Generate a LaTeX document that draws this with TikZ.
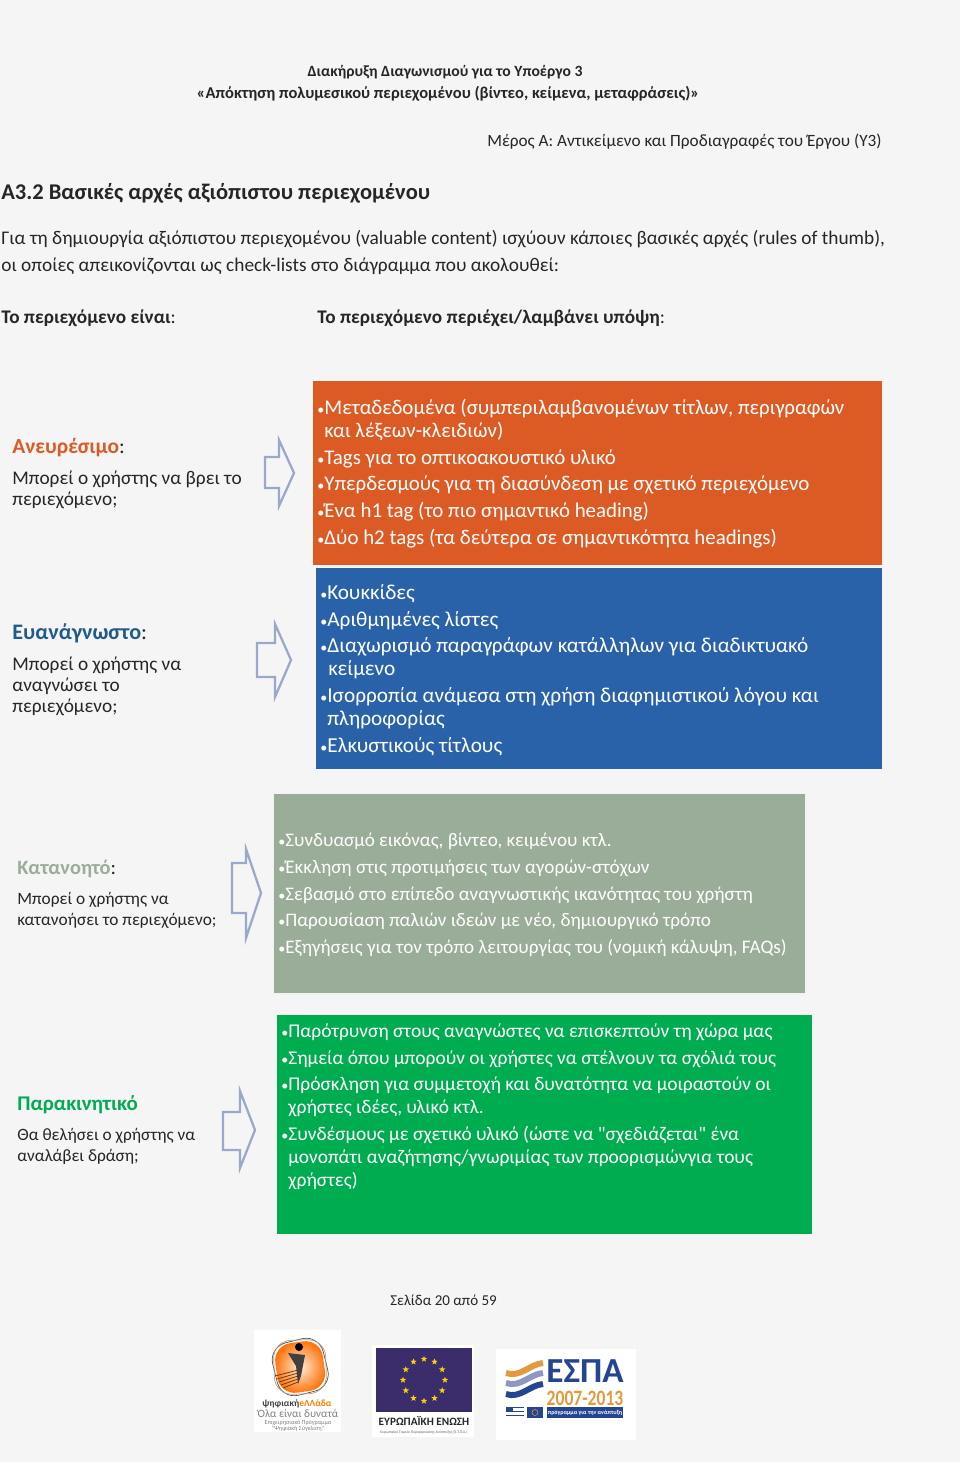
\documentclass[tikz,border=0pt]{standalone}
\usepackage{fontspec}
\setmainfont{Carlito}[Ligatures=TeXOff]
\usetikzlibrary{shapes.geometric}
\definecolor{pagebg}{HTML}{F5F5F5}
\definecolor{boxorange}{HTML}{DC5A24}
\definecolor{boxblue}{HTML}{2A62A9}
\definecolor{boxsage}{HTML}{9AAD98}
\definecolor{boxgreen}{HTML}{00AC50}
\definecolor{headblue}{HTML}{1F5C8B}
\definecolor{arrowblue}{HTML}{9AA9C9}
\definecolor{eublue}{HTML}{3B2C6B}
\definecolor{espanavy}{HTML}{24458F}
\definecolor{espalight}{HTML}{8E97C4}
\definecolor{espaorange}{HTML}{E39A3C}
\newcommand{\fs}[1]{\fontsize{#1}{#1}\selectfont}
\newcommand{\bul}{\makebox[4pt][l]{\fs{8}•}}
\tikzset{
  pagetext/.style={font=\fs{11},text=black!85,anchor=base west,inner sep=0pt},
  pagebold/.style={pagetext,font=\fs{10.95}\bfseries},
  sidehead/.style={font=\fs{12.2}\bfseries,anchor=base west,inner sep=0pt},
  sidetext/.style={font=\fs{11},text=black!85,anchor=base west,inner sep=0pt},
  smalltext/.style={sidetext,font=\fs{9.85}},
  boxline/.style={font=\fs{11.9},text=white,anchor=base west,inner sep=0pt},
  blueline/.style={boxline,font=\fs{12.1}},
  sageline/.style={boxline,font=\fs{10.9}},
  greenline/.style={boxline,font=\fs{11.05}},
  blockarrow/.style={draw=arrowblue,line width=1.3pt,fill=pagebg},
}
\begin{document}
\begin{tikzpicture}[x=0.02cm,y=-0.02cm]
\useasboundingbox (0,0) rectangle (960,1462);
\fill[pagebg] (0,0) rectangle (960,1462);
% page text
\node[pagebold,font=\fs{8.9}\bfseries,anchor=base] (title1) at (445,77) {Διακήρυξη Διαγωνισμού για το Υποέργο 3};
\node[pagebold,font=\fs{9.4}\bfseries,anchor=base] (title2) at (448,98.5) {«Απόκτηση πολυμεσικού περιεχομένου (βίντεο, κείμενα, μεταφράσεις)»};
\node[pagetext,font=\fs{9.8},anchor=base east] (part) at (882,147) {Μέρος Α: Αντικείμενο και Προδιαγραφές του Έργου (Υ3)};
\node[pagebold,font=\fs{12.8}\bfseries] (section) at (1,200) {Α3.2 Βασικές αρχές αξιόπιστου περιεχομένου};
\node[pagetext] (intro1) at (1,245) {Για τη δημιουργία αξιόπιστου περιεχομένου (valuable content) ισχύουν κάποιες βασικές αρχές (rules of thumb),};
\node[pagetext] (intro2) at (1,272) {οι οποίες απεικονίζονται ως check-lists στο διάγραμμα που ακολουθεί:};
\node[pagebold] (left) at (1,323.5) {Το περιεχόμενο είναι\mdseries:};
\node[pagebold] (right) at (317,323.5) {Το περιεχόμενο περιέχει/λαμβάνει υπόψη\mdseries:};
% orange row
\fill[boxorange] (313,381) rectangle (882,565);
\node[sidehead,text=boxorange] (find) at (12,453.5) {Ανευρέσιμο\textcolor{black!85}{\mdseries:}};
\node[sidetext] (find1) at (12,484) {Μπορεί ο χρήστης να βρει το};
\node[sidetext] (find2) at (12,505) {περιεχόμενο;};
\draw[blockarrow] (265,457) -- (279,457) -- (279,440) -- (294,473) -- (279,506) -- (279,488) -- (265,488) -- cycle;
\node[boxline] (ora1) at (317,414.5) {\bul Μεταδεδομένα (συμπεριλαμβανομένων τίτλων, περιγραφών};
\node[boxline] (ora2) at (324,437.5) {και λέξεων-κλειδιών)};
\node[boxline] (ora3) at (317,464) {\bul Tags για το οπτικοακουστικό υλικό};
\node[boxline] (ora4) at (317,490) {\bul Υπερδεσμούς για τη διασύνδεση με σχετικό περιεχόμενο};
\node[boxline] (ora5) at (317,517) {\bul Ένα h1 tag (το πιο σημαντικό heading)};
\node[boxline] (ora6) at (317,544) {\bul Δύο h2 tags (τα δεύτερα σε σημαντικότητα headings)};
% blue row
\fill[boxblue] (316,568) rectangle (882,769);
\node[sidehead,font=\fs{12.6}\bfseries,text=headblue] (read) at (12,639.5) {Ευανάγνωστο\textcolor{black!85}{\mdseries:}};
\node[sidetext] (read1) at (12,670) {Μπορεί ο χρήστης να};
\node[sidetext] (read2) at (12,691) {αναγνώσει το};
\node[sidetext] (read3) at (12,712) {περιεχόμενο;};
\draw[blockarrow] (257,643) -- (275,643) -- (275,624) -- (291,660) -- (275,697) -- (275,677) -- (257,677) -- cycle;
\node[blueline] (blu1) at (320,599) {\bul Κουκκίδες};
\node[blueline] (blu2) at (320,626) {\bul Αριθμημένες λίστες};
\node[blueline] (blu3) at (320,652) {\bul Διαχωρισμό παραγράφων κατάλληλων για διαδικτυακό};
\node[blueline] (blu4) at (328,675) {κείμενο};
\node[blueline] (blu5) at (320,702) {\bul Ισορροπία ανάμεσα στη χρήση διαφημιστικού λόγου και};
\node[blueline] (blu6) at (327,725) {πληροφορίας};
\node[blueline] (blu7) at (320,752) {\bul Ελκυστικούς τίτλους};
% sage row
\draw[fill=boxsage,draw=white!85!boxsage,line width=1pt] (273.5,793.5) rectangle (806,994);
\node[sidehead,font=\fs{11.6}\bfseries,text=boxsage] (know) at (17,874) {Κατανοητό\textcolor{black!85}{\mdseries:}};
\node[smalltext] (know1) at (17,904) {Μπορεί ο χρήστης να};
\node[smalltext] (know2) at (17,925) {κατανοήσει το περιεχόμενο;};
\draw[blockarrow] (232,863) -- (246,863) -- (246,849) -- (261,893) -- (246,938) -- (246,913) -- (232,913) -- cycle;
\node[sageline] (sag1) at (278,846) {\bul Συνδυασμό εικόνας, βίντεο, κειμένου κτλ.};
\node[sageline] (sag2) at (278,873) {\bul Έκκληση στις προτιμήσεις των αγορών-στόχων};
\node[sageline] (sag3) at (278,900) {\bul Σεβασμό στο επίπεδο αναγνωστικής ικανότητας του χρήστη};
\node[sageline] (sag4) at (278,926) {\bul Παρουσίαση παλιών ιδεών με νέο, δημιουργικό τρόπο};
\node[sageline] (sag5) at (278,953) {\bul Εξηγήσεις για τον τρόπο λειτουργίας του (νομική κάλυψη, FAQs)};
% green row
\fill[boxgreen] (277,1015) rectangle (812,1234);
\node[sidehead,font=\fs{11.9}\bfseries,text=boxgreen] (move) at (17,1110) {Παρακινητικό};
\node[smalltext] (move1) at (17,1140) {Θα θελήσει ο χρήστης να};
\node[smalltext] (move2) at (17,1161) {αναλάβει δράση;};
\draw[blockarrow] (223,1112) -- (240,1112) -- (240,1091) -- (255,1130) -- (240,1168) -- (240,1150) -- (223,1150) -- cycle;
\node[greenline] (gre1) at (281,1037) {\bul Παρότρυνση στους αναγνώστες να επισκεπτούν τη χώρα μας};
\node[greenline] (gre2) at (281,1064) {\bul Σημεία όπου μπορούν οι χρήστες να στέλνουν τα σχόλιά τους};
\node[greenline] (gre3) at (281,1090) {\bul Πρόσκληση για συμμετοχή και δυνατότητα να μοιραστούν οι};
\node[greenline] (gre4) at (288,1113) {χρήστες ιδέες, υλικό κτλ.};
\node[greenline] (gre5) at (281,1140) {\bul Συνδέσμους με σχετικό υλικό (ώστε να "σχεδιάζεται" ένα};
\node[greenline] (gre6) at (288,1163) {μονοπάτι αναζήτησης/γνωριμίας των προορισμώνγια τους};
\node[greenline] (gre7) at (288,1186) {χρήστες)};
% footer
\node[pagetext,font=\fs{8.56}] (pageno) at (390,1305) {Σελίδα 20 από 59};
% logo 1
\fill[white] (254,1330) rectangle (341,1432);
\shade[inner color=orange!15,outer color=orange!85!red,rounded corners=10pt,rotate around={8:(300,1366)}] (276,1342) rectangle (324,1392);
\draw[black!70,rounded corners=10pt,rotate around={14:(300,1366)}] (274,1340) rectangle (326,1394);
\draw[orange!50!black!50,rounded corners=10pt,rotate around={2:(300,1366)}] (274,1340) rectangle (326,1394);
\fill[black] (299,1347) circle (4);
\fill[black!75] (288,1353) -- (305,1355) -- (301,1376) -- (298,1384) -- (296,1366) -- cycle;
\foreach \k in {0,1,2,3,4}
  \draw[black!60!orange,line width=0.4pt] ({275+\k*2},{1376+\k*3}) -- (298,{1370+\k*3});
\node[font=\fs{5.4}\bfseries,text=black!75,inner sep=0pt] (logoa) at (297,1404) {ψηφιακή\textcolor{orange}{eΛΛάδα}};
\node[font=\fs{6.4},text=black!50,inner sep=0pt] (logob) at (298,1414) {Όλα είναι δυνατά};
\node[font=\fs{3.5},text=black!50,inner sep=0pt] (logoc) at (298,1423) {Επιχειρησιακό Πρόγραμμα};
\node[font=\fs{3.5},text=black!50,inner sep=0pt] (logod) at (298,1429) {"Ψηφιακή Σύγκλιση"};
% logo 2
\fill[white] (372,1345) rectangle (474,1437);
\fill[eublue] (376,1348) rectangle (472,1412);
\foreach \a in {0,30,...,330}
  \node[star,star points=5,star point ratio=2.4,fill=yellow!70!orange,inner sep=0pt,minimum size=3.8pt] (eu\a) at ({424+21*cos(\a)},{1380+21*sin(\a)}) {};
\node[font=\fs{6.4}\bfseries,text=black!85,inner sep=0pt] (euname) at (424,1421) {ΕΥΡΩΠΑΪΚΗ ΕΝΩΣΗ};
\node[font=\fs{2.2},text=black!60,inner sep=0pt] (eufund) at (424,1432) {Ευρωπαϊκό Ταμείο Περιφερειακής Ανάπτυξης (Ε.Τ.Π.Α.)};
% logo 3
\fill[white] (496,1349) rectangle (636,1440);
\draw[espaorange,line width=3.4pt] (506,1373) .. controls (520,1378) and (530,1364) .. (543,1363);
\draw[espalight,line width=3.4pt] (506,1383) .. controls (520,1388) and (530,1374) .. (543,1373);
\draw[espanavy,line width=3.4pt] (506,1394) .. controls (520,1399) and (530,1385) .. (543,1384);
\node[font=\fs{20}\bfseries,text=espanavy,inner sep=0pt] (espa) at (585,1371) {\scalebox{1.0}[1]{ΕΣΠΑ}};
\node[font=\fs{12.5}\bfseries,text=espaorange,inner sep=0pt] (years) at (585,1398) {\scalebox{0.8}[1]{2007-2013}};
\fill[white] (506,1407) rectangle (524,1418);
\foreach \k in {0,2,4}
  \fill[espanavy] (506,{1407+\k*2}) rectangle (524,{1408.2+\k*2});
\fill[espanavy] (506,1407) rectangle (513,1412);
\fill[espanavy] (527,1407) rectangle (543,1418);
\draw[espaorange,line width=0.3pt] (535,1412.5) circle (3);
\fill[espanavy] (547,1407) rectangle (623,1418);
\node[font=\fs{3.4}\bfseries,text=white,inner sep=0pt] (prog) at (585,1412.5) {πρόγραμμα για την ανάπτυξη};
\end{tikzpicture}
\end{document}
